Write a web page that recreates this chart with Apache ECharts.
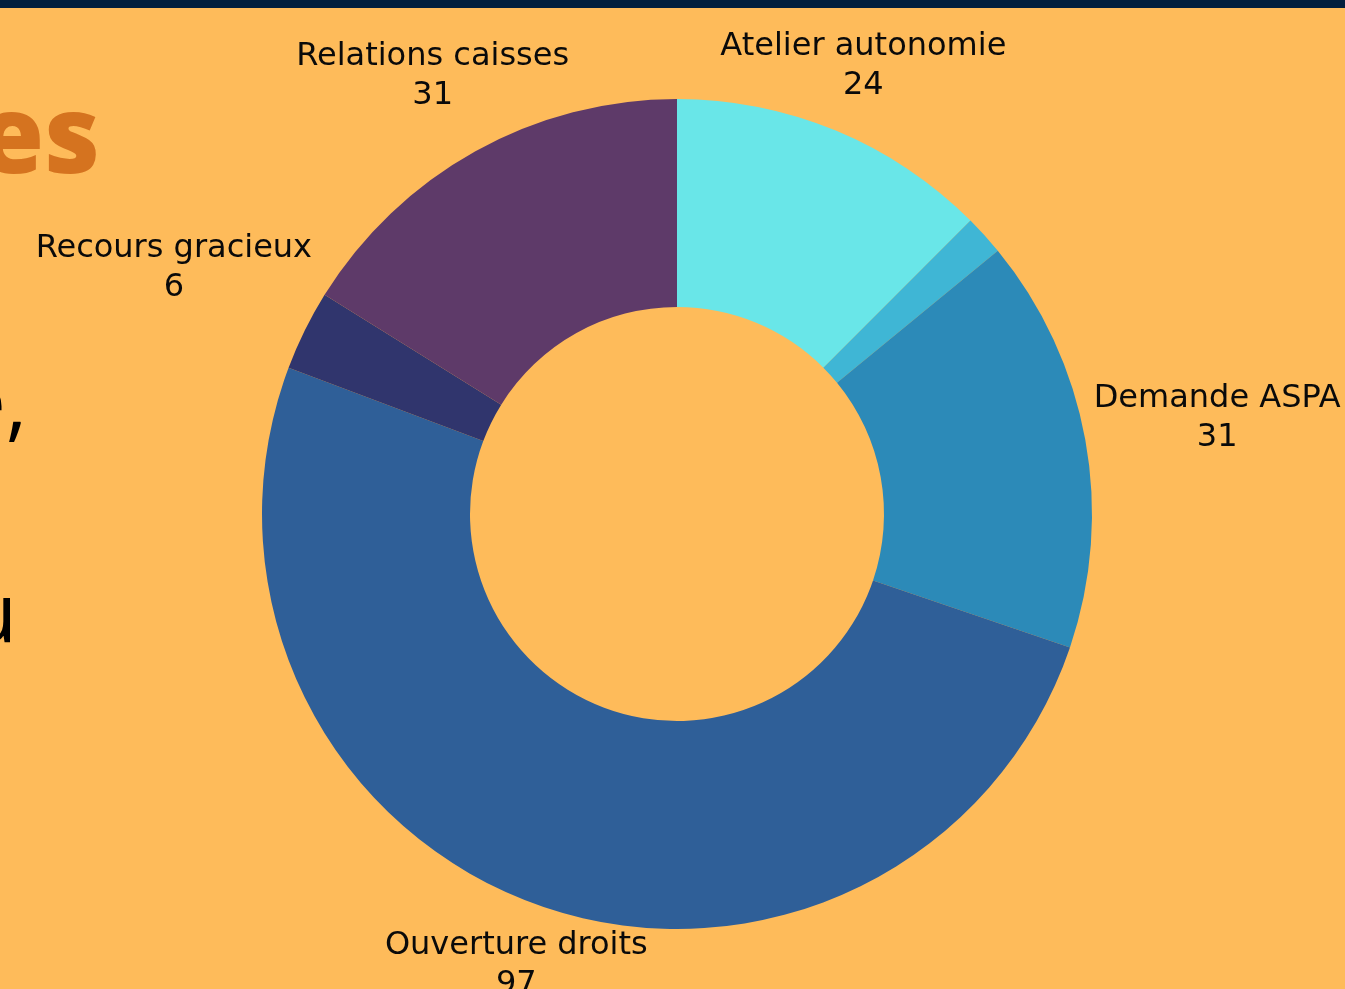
<!DOCTYPE html>
<html>
<head>
<meta charset="utf-8">
<script src="https://cdn.jsdelivr.net/npm/echarts@6/dist/echarts.min.js"></script>
<style>
  html, body { margin: 0; padding: 0; background: #FEBB5A; overflow: hidden; }
  #chart { width: 1345px; height: 989px; }
</style>
</head>
<body>
<div id="chart"></div>
<script>
// Data
var categories = ['Atelier autonomie', 'Autres', 'Demande ASPA', 'Ouverture droits', 'Recours gracieux', 'Relations caisses'];
var values = [24, 3, 31, 97, 6, 31];

// Styling / layout (not data)
var colors = ['#69E6E8', '#3FB6D5', '#2C8AB8', '#2F5F98', '#30356D', '#5E3A69'];
var showLabel = [true, false, true, true, true, true];
var labelOffset = [72, 0, 134, 62, 146, 88]; // distance of label centre beyond the outer radius

var CX = 677, CY = 514, R_IN = 207, R_OUT = 415;
var FONT = 'DejaVu Sans';

var total = values.reduce(function (a, b) { return a + b; }, 0);
var cum = [];
var acc = 0;
values.forEach(function (v) { cum.push(acc); acc += v; });

var chart = echarts.init(document.getElementById('chart'));
chart.setOption({
  backgroundColor: '#FEBB5A',
  animation: false,
  graphic: [
    { type: 'rect', left: 0, top: 0, shape: { width: 1345, height: 8 }, style: { fill: '#021F3D' }, z: 10 },
    { type: 'text', right: 1245, top: 88, style: { text: 'es', fill: '#D5731F', font: '900 108px "Open Sans"', textAlign: 'right' }, z: 1 },
    { type: 'text', right: 1318, top: 367, style: { text: 'e,', fill: '#000000', font: '400 82px "Open Sans"', textAlign: 'right' }, z: 1 },
    { type: 'text', right: 1328, top: 578, style: { text: 'u', fill: '#000000', font: '400 82px "Open Sans"', textAlign: 'right' }, z: 1 }
  ],
  series: [{
    type: 'pie',
    center: [CX, CY],
    radius: [R_IN, R_OUT],
    startAngle: 90,
    clockwise: true,
    avoidLabelOverlap: false,
    itemStyle: { borderWidth: 0 },
    label: {
      show: true,
      position: 'outside',
      formatter: '{b}\n{c}',
      color: '#0A0A0A',
      fontFamily: FONT,
      fontSize: 32,
      lineHeight: 39,
      align: 'center'
    },
    labelLine: { show: false },
    emphasis: { disabled: true },
    labelLayout: function (p) {
      var i = p.dataIndex;
      var mid = (cum[i] + values[i] / 2) / total * Math.PI * 2;
      var vx = Math.sin(mid), vy = -Math.cos(mid);
      var d = R_OUT + labelOffset[i];
      return {
        x: CX + vx * d,
        y: CY + vy * d + 2,
        align: 'center',
        verticalAlign: 'middle'
      };
    },
    data: categories.map(function (c, i) {
      return {
        name: c,
        value: values[i],
        itemStyle: { color: colors[i] },
        label: { show: showLabel[i] }
      };
    })
  }]
});
</script>
</body>
</html>
